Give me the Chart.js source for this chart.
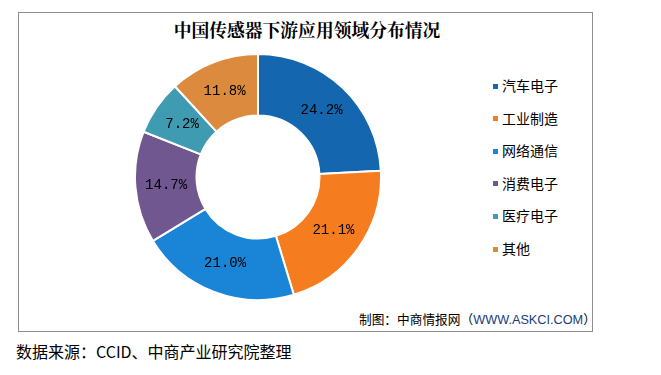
<!DOCTYPE html>
<html><head><meta charset="utf-8">
<script src="https://cdn.jsdelivr.net/npm/chart.js@4/dist/chart.umd.min.js"></script>
<style>
html,body{margin:0;padding:0;background:#fff;width:661px;height:375px;overflow:hidden;font-family:"Noto Sans CJK SC","Noto Sans",sans-serif;}
#box{position:absolute;left:18px;top:12px;width:575px;height:320px;border:1px solid #8c8c8c;box-sizing:border-box;}
#title{position:absolute;left:0;width:614px;top:17px;text-align:center;font-size:17.8px;font-weight:bold;color:#000;font-family:"Noto Serif CJK SC","Noto Sans CJK SC",serif;}
#wrap{position:absolute;left:134px;top:53px;width:248px;height:248px;}
#legend{position:absolute;left:493px;top:75px;font-size:14px;color:#000;}
#legend div{height:32.6px;line-height:20px;white-space:nowrap;}
#legend span.sq{display:inline-block;width:5px;height:5px;margin-right:4px;vertical-align:middle;position:relative;top:-1px;}
#credit{position:absolute;left:359px;top:309px;font-size:12.7px;color:#000;}
#credit .u{color:#1a3d7a;font-family:"Liberation Sans",sans-serif;}
#src{position:absolute;left:16px;top:339px;font-size:16px;color:#000;}
</style></head>
<body>
<div id="box"></div>
<div id="title">中国传感器下游应用领域分布情况</div>
<div id="wrap"><canvas id="c" width="248" height="248"></canvas></div>
<div id="legend"></div>
<div id="credit">制图：中商情报网（<span class="u">WWW.ASKCI.COM</span>）</div>
<div id="src">数据来源：CCID、中商产业研究院整理</div>
<script>
const categories = ["汽车电子","工业制造","网络通信","消费电子","医疗电子","其他"];
const shares = [24.2, 21.1, 21.0, 14.7, 7.2, 11.8];
const valueLabels = ["24.2%","21.1%","21.0%","14.7%","7.2%","11.8%"];
const colors = ["#1467ae","#f57d1f","#1a85d6","#70578f","#3f9bb1","#dc8a3d"];

const leg = document.getElementById('legend');
categories.forEach((c,i)=>{
  const d=document.createElement('div');
  const s=document.createElement('span'); s.className='sq'; s.style.background=colors[i];
  d.appendChild(s); d.appendChild(document.createTextNode(c)); leg.appendChild(d);
});

const labelPlugin = {
  id:'sliceLabels',
  afterDatasetsDraw(chart){
    const ctx=chart.ctx; const meta=chart.getDatasetMeta(0);
    ctx.save();
    ctx.font='14px "Liberation Mono", monospace';
    ctx.fillStyle='#000'; ctx.textAlign='center'; ctx.textBaseline='middle';
    meta.data.forEach((arc,i)=>{
      const p=arc.tooltipPosition();
      ctx.fillText(valueLabels[i], p.x, p.y);
    });
    ctx.restore();
  }
};

new Chart(document.getElementById('c'),{
  type:'doughnut',
  data:{labels:categories,datasets:[{data:shares,backgroundColor:colors,borderColor:'#fff',borderWidth:2}]},
  options:{responsive:false,animation:false,cutout:'50%',
    plugins:{legend:{display:false},tooltip:{enabled:false}},
    layout:{padding:0}},
  plugins:[labelPlugin]
});
</script>
</body></html>
